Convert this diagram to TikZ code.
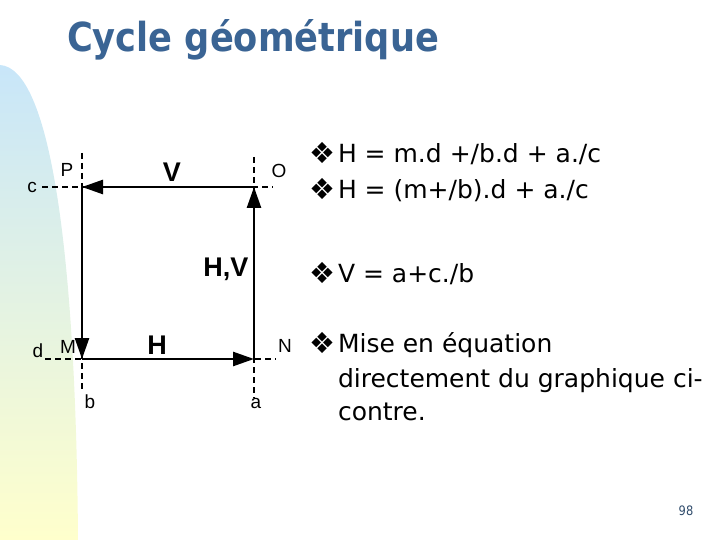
\documentclass[tikz,border=0pt]{standalone}
\usepackage{fontspec}
\setmainfont{DejaVu Sans}
\newfontfamily\titlefont[FakeStretch=0.88]{DejaVu Sans}
\newfontfamily\labelfont{Liberation Sans}
\usetikzlibrary{arrows.meta}

\definecolor{titleblue}{RGB}{58,100,148}
\definecolor{pageblue}{RGB}{46,74,106}
\definecolor{skyblue}{RGB}{200,230,249}
\definecolor{mintgreen}{RGB}{228,244,222}
\definecolor{paleyellow}{RGB}{255,255,204}

\begin{document}
\begin{tikzpicture}[x=1pt, y=-1pt, every node/.style={outer sep=0pt, inner sep=0pt},
    axis/.style={line width=2.2pt, dash pattern=on 6pt off 4pt},
    flow/.style={line width=2.6pt, -{Triangle[length=21pt,width=14pt]}},
    pointlbl/.style={font=\labelfont\fontsize{19}{19}\selectfont, anchor=base},
    arclbl/.style={font=\labelfont\bfseries\fontsize{27}{27}\selectfont, anchor=base},
    bulletmark/.style={font=\fontsize{29}{29}\selectfont, anchor=base west},
    eqline/.style={font=\fontsize{25}{25}\selectfont, anchor=base west}]
        \useasboundingbox (0,0) rectangle (720,540);
        % left band
        \shade[top color=skyblue, middle color=mintgreen, bottom color=paleyellow]
            (0,65) .. controls (50,68) and (76,250) .. (78,540) -- (0,540) -- cycle;
        \node (title) [font=\titlefont\bfseries\fontsize{40}{40}\selectfont, text=titleblue, anchor=base west] at (67,52) {Cycle géométrique};

        % corners of the cycle
        \coordinate (P) at (82,187);
        \coordinate (O) at (254,187);
        \coordinate (M) at (82,359);
        \coordinate (N) at (254,359);
        \coordinate (bTop) at (82,153);
        \coordinate (bEnd) at (82,392);
        \coordinate (aTop) at (254,157);
        \coordinate (aEnd) at (254,398);
        \coordinate (cEnd) at (42,187);
        \coordinate (oEnd) at (273,187);
        \coordinate (dEnd) at (45,359);
        \coordinate (nEnd) at (276,359);
        \draw [axis] (bTop) -- (bEnd);
        \draw [axis] (aTop) -- (aEnd);
        \draw [axis] (cEnd) -- (oEnd);
        \draw [axis] (dEnd) -- (nEnd);
        \draw [flow] (O) -- (P);
        \draw [flow] (P) -- (M);
        \draw [flow] (M) -- (N);
        \draw [flow] (N) -- (O);
        %\fill[red] (P) circle (2pt);

        \node (lblP) [pointlbl] at (67,177) {P};
        \node (lblO) [pointlbl] at (279,178) {O};
        \node (lblM) [pointlbl] at (68,353) {M};
        \node (lblN) [pointlbl] at (285,352) {N};
        \node (lblc) [pointlbl] at (32,193) {c};
        \node (lbld) [pointlbl] at (38,357) {d};
        \node (lblb) [pointlbl] at (90,408) {b};
        \node (lbla) [pointlbl] at (256,408) {a};
        \node (lblV) [arclbl] at (172,182) {V};
        \node (lblHV) [arclbl] at (226,276) {H,V};
        \node (lblH) [arclbl] at (157,354) {H};

        % equations
        \foreach \n/\y in {1/164,2/200,3/283,4/353}
            \node (bul\n) [bulletmark] at (309,\y) {❖};
        \node (eq1) [eqline] at (338,163) {H = m.d +/b.d + a./c};
        \node (eq2) [eqline] at (338,199) {H = (m+/b).d + a./c};
        \node (eq3) [eqline] at (338,282) {V = a+c./b};
        \node (eq4) [eqline] at (338,352) {Mise en équation};
        \node (eq5) [eqline] at (338,387) {directement du graphique ci-};
        \node (eq6) [eqline] at (338,420) {contre.};
        \node (page) [font=\titlefont\fontsize{13}{13}\selectfont, text=pageblue, anchor=base] at (686,515) {98};
    \end{tikzpicture}
\end{document}
